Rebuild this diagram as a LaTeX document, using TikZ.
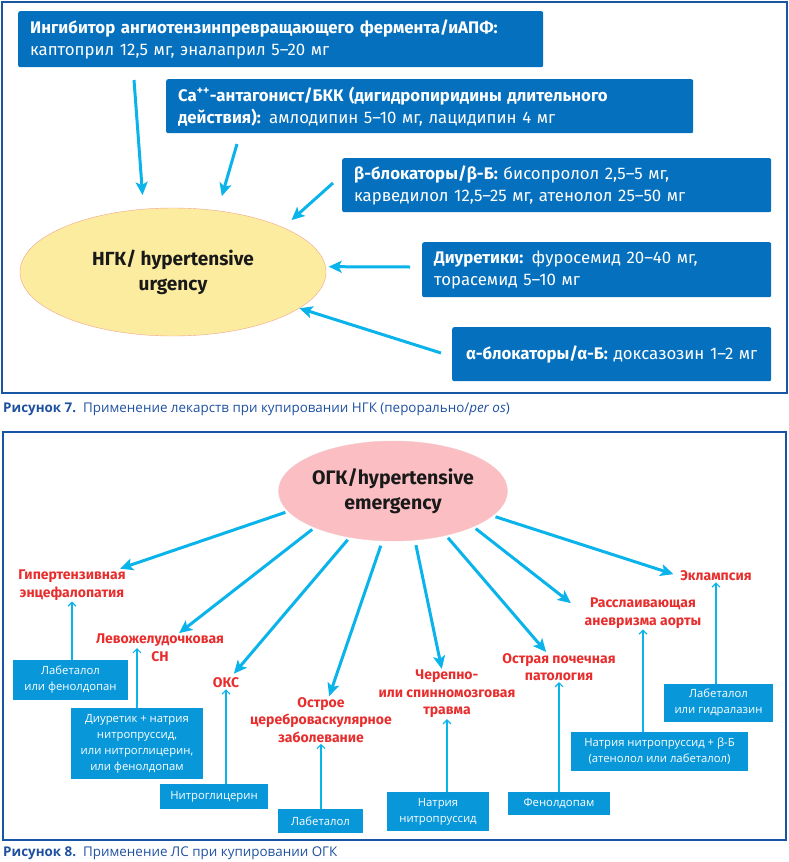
\documentclass[tikz,border=0pt]{standalone}
\usepackage{fontspec}
\setmainfont{Fira Sans}
\newfontfamily\capfont{Open Sans}
\usepackage{tikz}
\usetikzlibrary{calc,positioning,arrows.meta,shapes.geometric}

\definecolor{framblue}{RGB}{25,85,165}
\definecolor{boxblue}{RGB}{5,112,190}
\definecolor{drugblue}{RGB}{8,152,218}
\definecolor{arrcyan}{RGB}{10,180,235}
\definecolor{sitred}{RGB}{232,45,45}
\definecolor{urgfill}{RGB}{252,236,160}
\definecolor{urgline}{RGB}{242,165,140}
\definecolor{emgfill}{RGB}{250,190,195}
\definecolor{emgline}{RGB}{245,200,200}
\definecolor{capblue}{RGB}{30,80,160}

\begin{document}
\begin{tikzpicture}[x=1pt,y=-1pt]
\tikzstyle{topbox}=[fill=boxblue, rounded corners=2pt, anchor=north west,
                    inner xsep=12pt, inner ysep=0pt, align=left, text=white,
                    font=\fontsize{16.8}{22}\selectfont]
\tikzstyle{drugbox}=[fill=drugblue, text=white, align=center, inner sep=0pt,
                     font=\capfont\fontsize{11.3}{16}\selectfont]
\tikzstyle{sitlabel}=[text=sitred, align=center, inner sep=1pt,
                      font=\bfseries\fontsize{14}{17.5}\selectfont]
\tikzstyle{bigarrow}=[draw=arrcyan, line width=3pt,
                      -{Stealth[length=13pt,width=12pt,inset=3pt]}]
\tikzstyle{thinarrow}=[draw=arrcyan, line width=1.2pt,
                       -{Straight Barb[length=4pt,width=8pt]}]
\useasboundingbox (0,0) rectangle (789,862);

% Figure 7
\draw[framblue, line width=1.5pt] (2,2) rectangle (787,393);
\node[topbox, minimum height=56pt, text width=501pt] (ace) at (18,11)
  {\textbf{Ингибитор ангиотензинпревращающего фермента/иАПФ:}\\
   каптоприл 12,5 мг, эналаприл 5–20 мг};
\node[topbox, minimum height=54pt, text width=503pt] (cca) at (166,79)
  {\textbf{Ca\textsuperscript{++}-антагонист/БКК (дигидропиридины длительного}\\
   \textbf{действия):} амлодипин 5–10 мг, лацидипин 4 мг};
\node[topbox, minimum height=54pt, text width=405pt] (bbl) at (342,158)
  {\textbf{β-блокаторы/β-Б:} бисопролол 2,5–5 мг,\\
   карведилол 12,5–25 мг, атенолол 25–50 мг};
\node[topbox, minimum height=55pt, text width=325pt] (diu) at (422,242)
  {\textbf{Диуретики:} фуросемид 20–40 мг,\\
   торасемид 5–10 мг};
\node[topbox, minimum height=54pt, text width=295pt, align=center] (abl) at (452,327)
  {\textbf{α-блокаторы/α-Б:} доксазозин 1–2 мг};

\node[ellipse, fill=urgfill, draw=urgline, minimum width=306pt, minimum height=128pt,
      inner sep=0pt, align=center, text=black!90,
      font=\bfseries\fontsize{19}{25}\selectfont] (urg) at (173,272)
  {НГК/ hypertensive\\urgency};

\coordinate (a1) at (134,80);
\coordinate (a2) at (237,144);
\coordinate (a3) at (333,183);
\coordinate (a4) at (410,267);
\coordinate (a5) at (441,353);
\draw[bigarrow, shorten >=14pt] (a1) -- (urg.115);
\draw[bigarrow, shorten >=15pt] (a2) -- (urg.54);
\draw[bigarrow, shorten >=11pt] (a3) -- (urg.22.5);
\draw[bigarrow, shorten >=3pt] (a4) -- (urg.2);
\draw[bigarrow] (a5) -- (urg.-16);

\node[anchor=west, inner sep=0pt, text=capblue,
      font=\capfont\fontsize{13.4}{15}\selectfont] (cap7) at (3,409)
  {\textbf{Рисунок 7.}\ \ Применение лекарств при купировании НГК (перорально/\textit{per os})};

% Figure 8
\draw[framblue, line width=1.5pt] (3,432) rectangle (786,840);
\node[ellipse, fill=emgfill, draw=emgline, minimum width=226pt, minimum height=100pt,
      inner sep=0pt, align=center, text=black!90,
      font=\bfseries\fontsize{19.5}{25}\selectfont] (emg) at (393,491)
  {ОГК/hypertensive\\emergency};

\node[sitlabel] (hyp) at (72,585) {Гипертензивная\\энцефалопатия};
\node[sitlabel] (lvh) at (160,648) {Левожелудочковая\\СН};
\node[sitlabel] (oks) at (226,683) {ОКС};
\node[sitlabel] (cvd) at (321,720) {Острое\\цереброваскулярное\\заболевание};
\node[sitlabel] (tbi) at (447,694) {Черепно-\\или спинномозговая\\травма};
\node[sitlabel] (akd) at (559,667) {Острая почечная\\патология};
\node[sitlabel] (aod) at (643,613) {Расслаивающая\\аневризма аорты};
\node[sitlabel] (ekl) at (716,576) {Эклампсия};

\draw[bigarrow, shorten <=3pt] (emg.191) -- (hyp);
\draw[bigarrow, shorten <=3pt] (emg.205) -- (lvh);
\draw[bigarrow, shorten <=3pt, shorten >=4pt] (emg.227) -- (oks);
\draw[bigarrow, shorten <=5pt] (emg.258) -- (cvd);
\draw[bigarrow, shorten <=5pt] (emg.294) -- (tbi);
\draw[bigarrow, shorten <=3pt] (emg.320) -- (akd);
\draw[bigarrow, shorten <=3pt, shorten >=16pt] (emg.336) -- (aod.west);
\draw[bigarrow, shorten <=3pt, shorten >=6pt] (emg.346) -- (ekl.west);

\node[drugbox, minimum width=115pt, minimum height=40pt] (dhyp) at (70.5,680)
  {Лабеталол\\или фенолдопан};
\node[drugbox, minimum width=132pt, minimum height=71pt] (dlvh) at (137,743.5)
  {Диуретик + натрия\\нитропруссид,\\или нитроглицерин,\\или фенолдопам};
\node[drugbox, minimum width=108pt, minimum height=25pt] (doks) at (214,796.5)
  {Нитроглицерин};
\node[drugbox, minimum width=85pt, minimum height=24pt] (dcvd) at (320.5,821)
  {Лабеталол};
\node[drugbox, minimum width=102pt, minimum height=39pt] (dtbi) at (438,811.5)
  {Натрия\\нитропруссид};
\node[drugbox, minimum width=102pt, minimum height=23pt] (dakd) at (559,803.5)
  {Фенолдопам};
\node[drugbox, minimum width=177pt, minimum height=39pt] (daod) at (659.5,751.5)
  {Натрия нитропруссид + β-Б\\(атенолол или лабеталол)};
\node[drugbox, minimum width=109pt, minimum height=38pt] (dekl) at (718.5,703)
  {Лабеталол\\или гидралазин};

\draw[thinarrow] (hyp.south |- dhyp.north) -- (hyp.south);
\draw[thinarrow] (dlvh.north) -- (dlvh.north |- lvh.center);
\draw[thinarrow] (oks.south |- doks.north) -- (oks.south);
\draw[thinarrow] (cvd.south |- dcvd.north) -- (cvd.south);
\draw[thinarrow] (tbi.south |- dtbi.north) -- (tbi.south);
\draw[thinarrow] (akd.south |- dakd.north) -- (akd.south);
\draw[thinarrow] (aod.south |- daod.north) -- (aod.south);
\draw[thinarrow] (ekl.south |- dekl.north) -- (ekl.south);

\node[anchor=west, inner sep=0pt, text=capblue,
      font=\capfont\fontsize{13.4}{15}\selectfont] (cap8) at (3,853)
  {\textbf{Рисунок 8.}\ \ Применение ЛС при купировании ОГК};
\end{tikzpicture}
\end{document}
